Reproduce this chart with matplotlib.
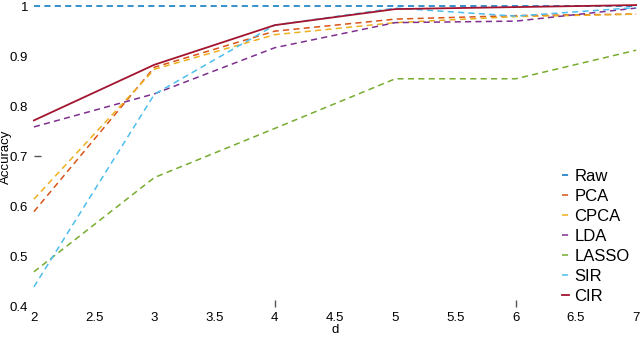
import matplotlib
matplotlib.use("Agg")
import matplotlib.pyplot as plt

d = [2, 3, 4, 5, 6, 7]
series = ["Raw", "PCA", "CPCA", "LDA", "LASSO", "SIR", "CIR"]
raw = [1.0, 1.0, 1.0, 1.0, 1.0, 1.0]
pca = [0.590, 0.878, 0.950, 0.974, 0.981, 0.984]
cpca = [0.615, 0.874, 0.943, 0.967, 0.979, 0.984]
lda = [0.759, 0.825, 0.917, 0.967, 0.970, 0.996]
lasso = [0.470, 0.658, 0.756, 0.855, 0.855, 0.912]
sir = [0.440, 0.824, 0.962, 0.996, 0.980, 0.997]
cir = [0.772, 0.883, 0.962, 0.994, 0.998, 1.002]
xticks = [2, 2.5, 3, 3.5, 4, 4.5, 5, 5.5, 6, 6.5, 7]
yticks = [0.4, 0.5, 0.6, 0.7, 0.8, 0.9, 1.0]
ytick_labels = ["0.4", "0.5", "0.6", "0.7", "0.8", "0.9", "1"]

colors = ["#0072BD", "#D95319", "#EDB120", "#7E2F8E", "#77AC30", "#4DBEEE", "#A2142F"]
data = [raw, pca, cpca, lda, lasso, sir, cir]

plt.rcParams['font.family'] = ['Liberation Sans', 'DejaVu Sans']
fig = plt.figure(figsize=(6.4, 3.38), dpi=100)
ax = fig.add_axes([0.053, 0.092, 0.941, 0.890])

for name, vals, c in zip(series, data, colors):
    if name == "CIR":
        ax.plot(d, vals, color=c, lw=1.3, label=name, solid_joinstyle='round')
    else:
        ax.plot(d, vals, color=c, lw=1.1, dashes=(4.0, 2.8), label=name)

ax.set_xlim(2, 7)
ax.set_ylim(0.4, 1.0)
ax.set_xticks(xticks)
ax.set_xticklabels([("%g" % t) for t in xticks])
ax.set_yticks(yticks)
ax.set_yticklabels(ytick_labels)
for s in ax.spines.values():
    s.set_visible(False)
ax.tick_params(axis='both', labelsize=9.5, direction='in', length=5, width=1,
               colors='#555555', labelcolor='black', pad=4)
for t in ax.xaxis.get_major_ticks():
    if t.get_loc() not in (4, 6):
        t.tick1line.set_visible(False)
    t.tick2line.set_visible(False)
for t in ax.yaxis.get_major_ticks():
    if abs(t.get_loc() - 0.7) > 1e-6:
        t.tick1line.set_visible(False)
    t.tick2line.set_visible(False)
for l in ax.lines:
    l.set_clip_on(False)

ax.set_xlabel("d", fontsize=9.5)
ax.xaxis.set_label_coords(0.5, -0.056)
ax.set_ylabel("Accuracy", fontsize=9.5)
ax.yaxis.set_label_coords(-0.037, 0.5)

leg = ax.legend(loc='lower right', frameon=False, fontsize=12,
                handlelength=0.45, handletextpad=0.3, labelspacing=0.3,
                borderaxespad=0.0, bbox_to_anchor=(1.0, -0.012))

fig.savefig("out.png", dpi=100)
